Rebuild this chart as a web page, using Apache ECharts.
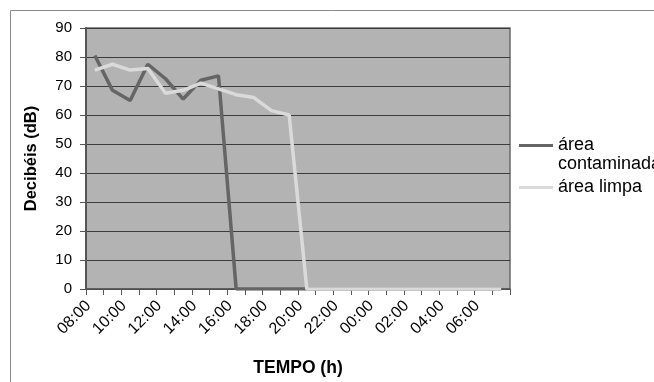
<!DOCTYPE html>
<html>
<head>
<meta charset="utf-8">
<script src="https://cdn.jsdelivr.net/npm/echarts@6/dist/echarts.min.js"></script>
<style>
  html, body { margin: 0; padding: 0; background: #ffffff; }
  #chart { width: 654px; height: 382px; }
</style>
</head>
<body>
<div id="chart"></div>
<script>
// Hourly readings, 08:00 through 07:00 of the next day
const horas = ['08:00','09:00','10:00','11:00','12:00','13:00','14:00','15:00',
               '16:00','17:00','18:00','19:00','20:00','21:00','22:00','23:00',
               '00:00','01:00','02:00','03:00','04:00','05:00','06:00','07:00'];

// Noise level (dB) in each area
const areaContaminada = [80.5, 68.5, 65, 77.5, 72.5, 65.5, 72, 73.5,
                         0, 0, 0, 0, 0, 0, 0, 0, 0, 0, 0, 0, 0, 0, 0, 0];
const areaLimpa = [75.5, 77.5, 75.5, 76, 67.5, 68.5, 71, 69,
                   67, 66, 61.5, 60, 0, 0, 0, 0, 0, 0, 0, 0, 0, 0, 0, 0];

const yTicks = { min: 0, max: 90, interval: 10 };

const FONT = '"Liberation Sans", Arial, sans-serif';
const chart = echarts.init(document.getElementById('chart'), null, { renderer: 'canvas' });

chart.setOption({
  animation: false,
  backgroundColor: '#ffffff',
  graphic: [{
    type: 'rect',
    shape: { x: 10.5, y: 10.5, width: 700, height: 400 },
    style: { fill: 'none', stroke: '#8a8a8a', lineWidth: 1 },
    silent: true
  }],
  grid: {
    left: 86, top: 28, right: 144, bottom: 93,
    show: true,
    backgroundColor: '#b3b3b3',
    borderColor: '#6a6a6a',
    borderWidth: 1.5
  },
  legend: {
    orient: 'vertical',
    left: 519,
    top: 117,
    padding: 0,
    itemWidth: 34,
    itemHeight: 3,
    itemGap: 4,
    icon: 'rect',
    textStyle: { fontFamily: FONT, fontSize: 18, color: '#000', lineHeight: 19 },
    // first line left blank so the swatch lines up with "área"
    formatter: function (name) {
      return name === 'área contaminada' ? '\nárea\ncontaminada' : name;
    },
    data: ['área contaminada', 'área limpa']
  },
  xAxis: {
    type: 'category',
    data: horas,
    boundaryGap: true,
    name: 'TEMPO (h)',
    nameLocation: 'middle',
    nameGap: 70,
    nameTextStyle: { fontFamily: FONT, fontSize: 17.5, fontWeight: 'bold', color: '#000' },
    axisLine: { lineStyle: { color: '#555', width: 1.5 } },
    axisTick: { show: true, interval: 0, length: 6, lineStyle: { color: '#555' } },
    axisLabel: {
      interval: 1,
      rotate: 45,
      margin: 8,
      padding: [0, 9, 0, 0],
      fontFamily: FONT,
      fontSize: 16,
      color: '#000'
    },
    splitLine: { show: false }
  },
  yAxis: {
    type: 'value',
    min: yTicks.min,
    max: yTicks.max,
    interval: yTicks.interval,
    name: 'Decibéis (dB)',
    nameLocation: 'middle',
    nameRotate: 90,
    nameGap: 46,
    nameTextStyle: { fontFamily: FONT, fontSize: 16.5, fontWeight: 'bold', color: '#000' },
    axisLine: { show: true, lineStyle: { color: '#555', width: 2 } },
    axisTick: { show: true, length: 6, lineStyle: { color: '#555' } },
    axisLabel: { fontFamily: FONT, fontSize: 15, color: '#000', margin: 14 },
    splitLine: { show: true, lineStyle: { color: '#3c3c3c', width: 1 } }
  },
  series: [
    {
      name: 'área contaminada',
      type: 'line',
      data: areaContaminada,
      symbol: 'none',
      color: '#656565',
      lineStyle: { width: 3.5, color: '#656565' },
      z: 2
    },
    {
      name: 'área limpa',
      type: 'line',
      data: areaLimpa,
      symbol: 'none',
      color: '#dadada',
      lineStyle: { width: 3.5, color: '#dadada' },
      z: 3
    }
  ]
});
</script>
</body>
</html>
